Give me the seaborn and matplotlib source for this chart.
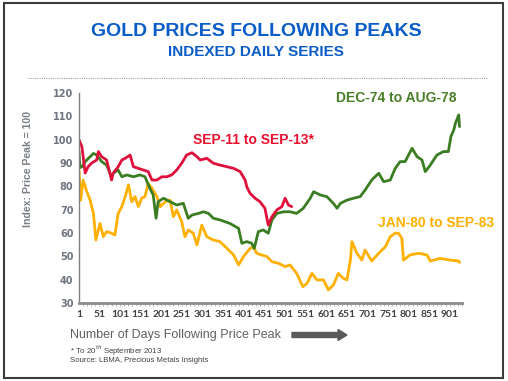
import matplotlib
matplotlib.use("Agg")
import matplotlib.pyplot as plt
from matplotlib.patches import Rectangle, FancyArrow
from matplotlib.lines import Line2D
from matplotlib.ticker import MultipleLocator
import seaborn as sns
import pandas as pd

# ---- data ----
red_days = [1, 8, 16, 23, 32, 44, 48, 56, 68, 80, 84, 96, 105, 113, 125, 133, 145, 157, 169, 178,
            190, 202, 214, 226, 238, 250, 262, 275, 287, 295, 311, 327, 343, 360, 376, 392, 404,
            408, 416, 428, 440, 452, 460, 469, 481, 493, 501, 509, 517]
red_vals = [100, 97, 85.7, 88.4, 90, 91.3, 94.9, 92.7, 91.3, 82.7, 85.7, 88.4, 91.3, 92, 93.4, 88.4,
            87.7, 87, 86.3, 82.7, 82.7, 84.1, 84.1, 84.9, 87, 89.9, 93.4, 94.4, 92.7, 91.3, 92, 89.9,
            89.1, 88.4, 87.7, 86.3, 82.7, 79.8, 77, 74.9, 73.4, 70.6, 63.4, 67, 69.9, 71.3, 74.9,
            72, 71.3]

green_days = [1, 3, 8, 16, 24, 36, 44, 56, 68, 80, 84, 96, 105, 117, 133, 149, 161, 173, 181, 188,
              193, 206, 222, 238, 254, 266, 275, 291, 303, 315, 327, 343, 367, 388, 396, 408, 420,
              426, 436, 448, 460, 469, 481, 497, 513, 529, 545, 562, 570, 586, 602, 618, 627, 635,
              651, 667, 683, 695, 711, 728, 740, 756, 768, 780, 792, 809, 821, 833, 841, 853, 869,
              885, 897, 903, 910, 914, 922, 924]
green_vals = [95, 88, 88.4, 90.6, 92, 94.1, 93.4, 90.6, 89.1, 84, 85.6, 87, 84.1, 84.9, 84.1, 84.9,
              84.1, 79.1, 76.3, 66.3, 73.4, 74.9, 73.4, 72, 72.7, 66.3, 67.7, 68.4, 69.1, 68.4, 66.3,
              65.6, 64.1, 62, 55.6, 56.3, 55.6, 53.4, 60.6, 61.3, 59.9, 65.6, 68.4, 69.1, 69.1, 68.4,
              70.6, 74.9, 77.7, 76.3, 75.6, 72.7, 70.6, 72.7, 74.1, 74.9, 75.6, 78.4, 82.7, 85.6, 82,
              82.7, 87.7, 90.6, 90.6, 96.3, 92.7, 91.3, 86.3, 89.1, 93.4, 94.9, 94.9, 101.3, 104.1,
              107, 110.6, 105.6]

yellow_days = [1, 5, 11, 20, 28, 36, 42, 52, 60, 68, 80, 88, 96, 105, 113, 121, 129, 137, 145, 153,
               161, 169, 178, 190, 198, 210, 222, 230, 238, 250, 258, 266, 278, 287, 299, 311, 327,
               343, 360, 376, 388, 400, 416, 424, 432, 444, 457, 469, 485, 501, 513, 529, 544, 554,
               566, 578, 594, 606, 618, 630, 642, 651, 659, 663, 675, 687, 695, 711, 728, 744, 756,
               768, 776, 784, 788, 804, 825, 845, 853, 877, 901, 922, 924]
yellow_vals = [87, 74.1, 82.7, 77.7, 74.1, 68.4, 57, 64.1, 58.4, 60.6, 59.9, 59.1, 68.4, 71.3, 75.6,
               80.6, 73.4, 75.6, 71.3, 74.9, 75.6, 81.3, 79.1, 75.6, 71.3, 73.4, 74.1, 67, 69.9, 64.9,
               58.4, 61.3, 59.9, 54.9, 63.4, 58.4, 57, 56.3, 53.4, 50.6, 46.3, 49.9, 53.4, 54.1, 51.3,
               50.6, 49.9, 47.7, 47, 45.6, 46.3, 42.7, 37, 38.4, 42.7, 39.9, 39.9, 35.6, 37.7, 42.7,
               40.6, 39.9, 48, 56.3, 51.3, 48.4, 52.7, 48, 51.3, 54.1, 58.4, 59.9, 59.9, 57.7, 48.4,
               50.6, 51.3, 50.6, 48, 49.1, 48.4, 48, 47.4]

x_ticks = list(range(1, 902, 50))
y_ticks = [30, 40, 50, 60, 70, 80, 90, 100, 110, 120]

series_names = ["JAN-80 to SEP-83", "DEC-74 to AUG-78", "SEP-11 to SEP-13*"]
colors = {"SEP-11 to SEP-13*": "#E0103C", "DEC-74 to AUG-78": "#3A7D23", "JAN-80 to SEP-83": "#FFB000"}

frames = []
for name, d, v in [(series_names[0], yellow_days, yellow_vals),
                   (series_names[1], green_days, green_vals),
                   (series_names[2], red_days, red_vals)]:
    frames.append(pd.DataFrame({"day": d, "value": v, "series": name}))
df = pd.concat(frames, ignore_index=True)

# ---- figure ----
sns.set_style("white")
plt.rcParams["font.family"] = ["Liberation Sans", "DejaVu Sans"]

W, H = 508, 381
fig = plt.figure(figsize=(W / 100, H / 100), dpi=100)
ax = fig.add_axes([79 / W, 1 - 303 / H, (462 - 79) / W, (303 - 93) / H])

sns.lineplot(data=df, x="day", y="value", hue="series", hue_order=series_names,
             palette=colors, linewidth=2.0, legend=False, ax=ax, sort=False,
             estimator=None)

ax.set_xlim(1, 930)
ax.set_ylim(30, 120)
ax.set_xticks(x_ticks)
ax.set_xticklabels([str(t) for t in x_ticks], fontsize=7.5, fontweight="bold",
                   color="#404040", family="Lato")
ax.xaxis.set_minor_locator(MultipleLocator(10))
ax.set_yticks(y_ticks)
ax.set_yticklabels([str(t) for t in y_ticks], fontsize=7, fontweight="bold",
                   color="#6F7480", family="DejaVu Sans")
ax.tick_params(axis="both", which="major", length=0, pad=4)
ax.tick_params(axis="x", which="major", pad=5)
ax.tick_params(axis="x", which="minor", bottom=True, length=2.5, width=0.5, color="#A0A0A0")
ax.set_xlabel("")
ax.set_ylabel("")
for s in ["top", "right"]:
    ax.spines[s].set_visible(False)
ax.spines["left"].set_color("#808080")
ax.spines["left"].set_linewidth(1.0)
ax.spines["bottom"].set_color("#8C8C8C")
ax.spines["bottom"].set_linewidth(2.0)

# series labels
fig.text(396 / W, 1 - 98 / H, "DEC-74 to AUG-78", ha="center", va="center",
         fontsize=10, fontweight="bold", color="#4A7F2A")
fig.text(253 / W, 1 - 140 / H, "SEP-11 to SEP-13*", ha="center", va="center",
         fontsize=10, fontweight="bold", color="#E8102E")
fig.text(436 / W, 1 - 223 / H, "JAN-80 to SEP-83", ha="center", va="center",
         fontsize=10, fontweight="bold", color="#FFB000")

# y axis title
fig.text(28 / W, 1 - 169 / H, "Index: Price Peak = 100", rotation=90, ha="center", va="center",
         fontsize=7.6, fontweight="bold", color="#7A7F88")

# titles
fig.text(256 / W, 1 - 32 / H, "GOLD PRICES FOLLOWING PEAKS", ha="center", va="center",
         fontsize=14, fontweight="bold", color="#0A5CC8")
fig.text(256 / W, 1 - 52 / H, "INDEXED DAILY SERIES", ha="center", va="center",
         fontsize=11, fontweight="bold", color="#0A5CC8")

# dotted separator
fig.add_artist(Line2D([28 / W, 487 / W], [1 - 78 / H, 1 - 78 / H], transform=fig.transFigure,
                      color="#A0A0A0", linestyle=(0, (1, 1)), linewidth=0.8))

# bottom texts
fig.text(70 / W, 1 - 335 / H, "Number of Days Following Price Peak", ha="left", va="center",
         fontsize=9, color="#606060")
fig.add_artist(FancyArrow(292 / W, 1 - 335 / H, 55 / W, 0, width=5 / H, head_width=11 / H,
                          head_length=9 / W, length_includes_head=True,
                          transform=fig.transFigure, color="#5A5A5A"))
fig.text(70 / W, 1 - 351 / H, "* To 20$^{th}$ September 2013", ha="left", va="center",
         fontsize=5.6, color="#404040")
fig.text(70 / W, 1 - 361 / H, "Source: LBMA, Precious Metals Insights", ha="left", va="center",
         fontsize=5.6, color="#404040")

# outer frame
fig.add_artist(Rectangle((4 / W, 3 / H), 499 / W, 375 / H, transform=fig.transFigure,
                         fill=False, edgecolor="#3C3C3C", linewidth=1.5))

fig.savefig("out.png", dpi=100, facecolor="white")
